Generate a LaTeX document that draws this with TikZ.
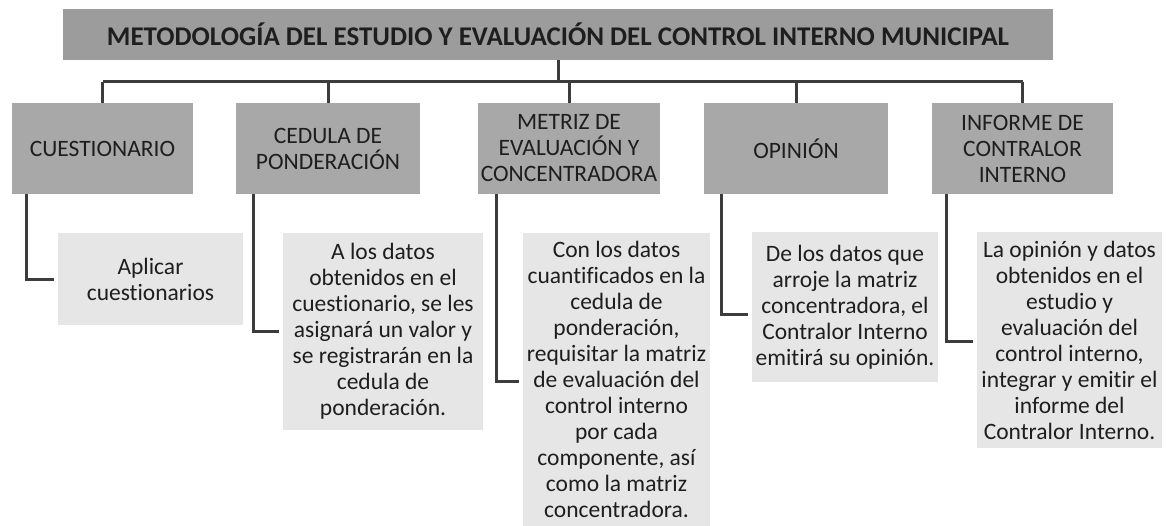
\documentclass[tikz,border=0pt]{standalone}
\usepackage{fontspec}
\setmainfont{Carlito}[Ligatures={NoCommon}]
\usepackage{tikz}

\begin{document}
\begin{tikzpicture}[x=1pt,y=-1pt,
    titel/.style={fill=titelgrau, text=schrift, inner sep=0pt, minimum width=990pt, minimum height=51pt, font=\fontsize{27}{32}\selectfont\bfseries},
    kopf/.style={fill=kopfgrau, text=schrift, inner sep=0pt, minimum height=91pt, align=center, font=\fontsize{23.5}{26}\selectfont},
    inhalt/.style={fill=inhaltgrau, text=schrift, inner sep=0pt, align=center, font=\fontsize{23.5}{26}\selectfont},
    linie/.style={draw=liniengrau, line width=3pt}]
    \definecolor{titelgrau}{HTML}{9C9C9C}
    \definecolor{kopfgrau}{HTML}{A8A8A8}
    \definecolor{inhaltgrau}{HTML}{E6E6E6}
    \definecolor{liniengrau}{HTML}{3C3C3C}
    \definecolor{schrift}{HTML}{1E1E1E}
    \useasboundingbox (0,0) rectangle (1167,526);  %Rand
    \node[titel] (titel) at (558,34.5) {METODOLOGÍA DEL ESTUDIO Y EVALUACIÓN DEL CONTROL INTERNO MUNICIPAL};
    \coordinate (bus) at (558,82);  %Hoehe der Querlinie
    % Kopfkaesten
    \node[kopf, minimum width=181pt] (cues) at (102.5,148.5) {CUESTIONARIO};
    \node[kopf, minimum width=184pt] (ced) at (328,148.5) {CEDULA DE\\PONDERACIÓN};
    \node[kopf, minimum width=182pt] (metr) at (569,148.5) {METRIZ DE\\EVALUACIÓN Y\\CONCENTRADORA};
    \node[kopf, minimum width=184pt] (opin) at (796,148.5) {OPINIÓN};
    \node[kopf, minimum width=181pt] (info) at (1022.5,148.5) {INFORME DE\\CONTRALOR\\INTERNO};
    % Inhaltskaesten
    \node[inhalt, minimum width=185pt, minimum height=92pt] (apl) at (150.5,279) {Aplicar\\cuestionarios};
    \node[inhalt, minimum width=200pt, minimum height=197pt] (dat) at (383,331.5) {A los datos\\obtenidos en el\\cuestionario, se les\\asignará un valor y\\se registrarán en la\\cedula de\\ponderación.};
    \node[inhalt, minimum width=187pt, minimum height=293pt] (con) at (616.5,379.5) {Con los datos\\cuantificados en la\\cedula de\\ponderación,\\requisitar la matriz\\de evaluación del\\control interno\\por cada\\componente, así\\como la matriz\\concentradora.};
    \node[inhalt, minimum width=186pt, minimum height=150pt] (dela) at (845,307) {De los datos que\\arroje la matriz\\concentradora, el\\Contralor Interno\\emitirá su opinión.};
    \node[inhalt, minimum width=185pt, minimum height=216pt] (opd) at (1069.5,340) {La opinión y datos\\obtenidos en el\\estudio y\\evaluación del\\control interno,\\integrar y emitir el\\informe del\\Contralor Interno.};
    % Linien
    \draw[linie] (titel.south) -- (bus);
    \draw[linie] (cues.north |- bus) -- (info.north |- bus);  %Querlinie
    \foreach \kasten in {cues,ced,metr,opin,info}
      \draw[linie] (\kasten.north |- bus) -- (\kasten.north);  %Abzweig
    \foreach \oben/\unten/\dx/\dy in {cues/apl/15/-1, ced/dat/18/0, metr/con/19/-2, opin/dela/18/-8, info/opd/15/-2}
      \draw[linie, shorten >=4pt] ([xshift=\dx pt]\oben.south west) |- ([yshift=\dy pt]\unten.west);
\end{tikzpicture}
\end{document}
